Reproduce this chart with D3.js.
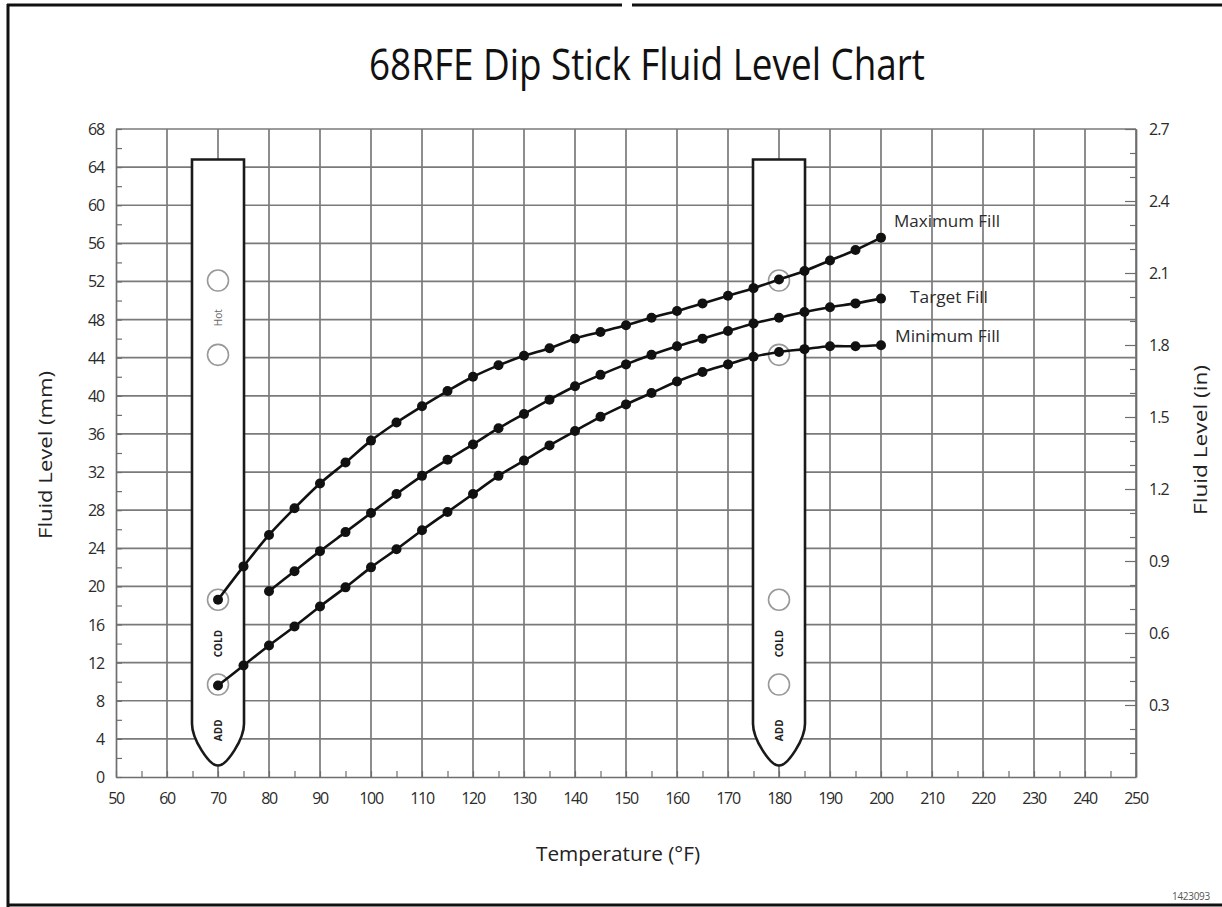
<!DOCTYPE html>
<html>
<head>
<meta charset="utf-8">
<script src="https://cdn.jsdelivr.net/npm/d3@7/dist/d3.min.js"></script>
<style>
  html, body { margin: 0; padding: 0; background: #fff; }
  svg { display: block; }
  text { font-family: "Open Sans", "DejaVu Sans", sans-serif; }
</style>
</head>
<body>
<svg id="chart" width="1222" height="907"></svg>
<script>
// ---------- data ----------
const title = "68RFE Dip Stick Fluid Level Chart";
const xTicks = [50,60,70,80,90,100,110,120,130,140,150,160,170,180,190,200,210,220,230,240,250];
const yTicksMm = [0,4,8,12,16,20,24,28,32,36,40,44,48,52,56,60,64,68];
const yTicksIn = [0.3,0.6,0.9,1.2,1.5,1.8,2.1,2.4,2.7];

const tempsFull = [70,75,80,85,90,95,100,105,110,115,120,125,130,135,140,145,150,155,160,165,170,175,180,185,190,195,200];
const tempsTarget = [80,85,90,95,100,105,110,115,120,125,130,135,140,145,150,155,160,165,170,175,180,185,190,195,200];

const maxFill = [18.6,22.1,25.4,28.2,30.8,33.0,35.3,37.2,38.9,40.5,42.0,43.2,44.2,45.0,46.0,46.7,47.4,48.2,48.9,49.7,50.5,51.3,52.2,53.1,54.2,55.3,56.6];
const targetFill = [19.5,21.6,23.7,25.7,27.7,29.7,31.6,33.3,34.9,36.6,38.1,39.6,41.0,42.2,43.3,44.3,45.2,46.0,46.8,47.6,48.2,48.8,49.3,49.7,50.2];
const minFill = [9.6,11.7,13.8,15.8,17.9,19.9,22.0,23.9,25.9,27.8,29.7,31.6,33.2,34.8,36.3,37.8,39.1,40.3,41.5,42.5,43.3,44.1,44.6,44.9,45.2,45.2,45.3];

const seriesNames = ["Maximum Fill","Target Fill","Minimum Fill"];

// dipsticks
const stickTemps = [70,180];
const stickHalfWidth = 5.1;     // °F
const stickTop = 64.8;          // mm
const stickShoulder = 5.6;      // mm
const stickTip = 1.2;           // mm
const holeLevels = [52.1,44.3,18.6,9.7];
const hotLabelLevel = 48.2, coldLabelLevel = 14.0, addLabelLevel = 4.9;

// ---------- scales ----------
const svg = d3.select("#chart");
const x = d3.scaleLinear().domain([50,250]).range([116,1136]);
const y = d3.scaleLinear().domain([0,68]).range([777,129]);
const yIn = d3.scaleLinear().domain([0,2.7]).range([777,129]);

// ---------- frame border ----------
const border = svg.append("g").attr("stroke","#111").attr("stroke-width",3);
border.append("line").attr("x1",7).attr("x2",622).attr("y1",5).attr("y2",5);
border.append("line").attr("x1",632).attr("x2",1222).attr("y1",5).attr("y2",5);
border.append("line").attr("x1",8).attr("x2",8).attr("y1",4).attr("y2",907);
border.append("line").attr("x1",7).attr("x2",1222).attr("y1",905).attr("y2",905);

// ---------- title ----------
svg.append("text").attr("x",647).attr("y",80).attr("text-anchor","middle")
  .attr("font-size",44).attr("fill","#111")
  .attr("textLength",556).attr("lengthAdjust","spacingAndGlyphs")
  .text(title);

// ---------- grid ----------
const grid = svg.append("g").attr("stroke","#7a7a7a").attr("stroke-width",1.7);
grid.selectAll("line.v").data(xTicks.slice(1)).join("line")
  .attr("x1",d=>x(d)).attr("x2",d=>x(d)).attr("y1",y(68)).attr("y2",y(0));
grid.selectAll("line.h").data(yTicksMm.slice(1)).join("line")
  .attr("x1",x(50)).attr("x2",x(250)).attr("y1",d=>y(d)).attr("y2",d=>y(d));

// ---------- axes ----------
const axisColor = "#6e6e6e";
const tickFont = 16;
const gx = svg.append("g").attr("transform",`translate(0,${y(0)})`)
  .call(d3.axisBottom(x).tickValues(d3.range(50,251,5)).tickSize(-6).tickSizeOuter(0).tickFormat(""));
gx.select(".domain").attr("stroke",axisColor).attr("stroke-width",1.7);
gx.selectAll(".tick line").attr("stroke",axisColor).attr("stroke-width",1.2);
svg.append("g").selectAll("text").data(xTicks).join("text")
  .attr("x",d=>x(d)).attr("y",y(0)+27).attr("text-anchor","middle")
  .attr("font-size",tickFont).attr("fill","#2b2b2b").attr("letter-spacing",-1.3).text(d=>d);

const gy = svg.append("g").attr("transform",`translate(${x(50)},0)`)
  .call(d3.axisLeft(y).tickValues(d3.range(0,69,2)).tickSize(-6).tickSizeOuter(0).tickFormat(""));
gy.select(".domain").attr("stroke",axisColor).attr("stroke-width",1.7);
gy.selectAll(".tick line").attr("stroke",axisColor).attr("stroke-width",1.2);
svg.append("g").selectAll("text").data(yTicksMm).join("text")
  .attr("x",x(50)-12).attr("y",d=>y(d)+6).attr("text-anchor","end")
  .attr("font-size",tickFont).attr("fill","#2b2b2b").attr("letter-spacing",-1.1).text(d=>d);

const gr = svg.append("g").attr("transform",`translate(${x(250)},0)`)
  .call(d3.axisRight(yIn).tickValues(d3.range(1,28).map(v=>v/10)).tickSize(-6).tickSizeOuter(0).tickFormat(""));
gr.select(".domain").attr("stroke",axisColor).attr("stroke-width",1.7);
gr.selectAll(".tick line").attr("stroke",axisColor).attr("stroke-width",1.2)
  .attr("x2",d=> (Math.round(d*10)%3===0) ? -11 : -6);
svg.append("g").selectAll("text").data(yTicksIn).join("text")
  .attr("x",x(250)+13).attr("y",d=>yIn(d)+6).attr("text-anchor","start")
  .attr("font-size",tickFont).attr("fill","#2b2b2b").attr("letter-spacing",-0.9).text(d=>d.toFixed(1));

// axis titles
svg.append("text").attr("transform",`translate(52,455) rotate(-90)`)
  .attr("text-anchor","middle").attr("font-size",19).attr("fill","#222")
  .attr("textLength",168).attr("lengthAdjust","spacingAndGlyphs").text("Fluid Level (mm)");
svg.append("text").attr("transform",`translate(1207,440) rotate(-90)`)
  .attr("text-anchor","middle").attr("font-size",19).attr("fill","#222")
  .attr("textLength",150).attr("lengthAdjust","spacingAndGlyphs").text("Fluid Level (in)");
svg.append("text").attr("x",618).attr("y",861).attr("text-anchor","middle")
  .attr("font-size",20).attr("fill","#222")
  .attr("textLength",164).attr("lengthAdjust","spacingAndGlyphs").text("Temperature (°F)");

// ---------- dipsticks ----------
function stickPath(c){
  const L = x(c-stickHalfWidth), R = x(c+stickHalfWidth), C = x(c);
  const p = d3.path();
  p.moveTo(L, y(stickTop));
  p.lineTo(R, y(stickTop));
  p.lineTo(R, y(stickShoulder));
  p.bezierCurveTo(R, y(stickShoulder-1.6), C+9, y(stickTip), C, y(stickTip));
  p.bezierCurveTo(C-9, y(stickTip), L, y(stickShoulder-1.6), L, y(stickShoulder));
  p.closePath();
  return p.toString();
}
const sticks = svg.append("g").selectAll("g").data(stickTemps).join("g");
sticks.append("path").attr("d",d=>stickPath(d))
  .attr("fill","#fff").attr("stroke","#1a1a1a").attr("stroke-width",2.6);
sticks.selectAll("circle").data(d=>holeLevels.map(h=>({t:d,h}))).join("circle")
  .attr("cx",d=>x(d.t)).attr("cy",d=>y(d.h)).attr("r",10.5)
  .attr("fill","#fff").attr("stroke","#999").attr("stroke-width",1.6);
sticks.append("text").attr("transform",d=>`translate(${x(d)+4},${y(coldLabelLevel)}) rotate(-90)`)
  .attr("text-anchor","middle").attr("font-size",10).attr("font-weight","bold").attr("fill","#222").text("COLD");
sticks.append("text").attr("transform",d=>`translate(${x(d)+4},${y(addLabelLevel)}) rotate(-90)`)
  .attr("text-anchor","middle").attr("font-size",10).attr("font-weight","bold").attr("fill","#222").text("ADD");
svg.append("text").attr("transform",`translate(${x(stickTemps[0])+4},${y(hotLabelLevel)}) rotate(-90)`)
  .attr("text-anchor","middle").attr("font-size",10).attr("fill","#666").text("Hot");

// ---------- series ----------
const series = [
  {name:seriesNames[0], t:tempsFull, v:maxFill},
  {name:seriesNames[1], t:tempsTarget, v:targetFill},
  {name:seriesNames[2], t:tempsFull, v:minFill}
].map(s => ({name:s.name, pts:s.t.map((t,i)=>({t, v:s.v[i]}))}));

const line = d3.line().x(d=>x(d.t)).y(d=>y(d.v)).curve(d3.curveCatmullRom);
const sg = svg.append("g").selectAll("g").data(series).join("g");
sg.append("path").attr("d",d=>line(d.pts)).attr("fill","none")
  .attr("stroke","#111").attr("stroke-width",2.6);
sg.selectAll("circle").data(d=>d.pts).join("circle")
  .attr("cx",d=>x(d.t)).attr("cy",d=>y(d.v)).attr("r",5).attr("fill","#111");

// series labels
const labelPos = [
  {dx:13, dy:-11, len:106},
  {dx:29, dy:4, len:78},
  {dx:14, dy:-3, len:105}
];
svg.append("g").selectAll("text").data(series).join("text")
  .attr("x",(d,i)=>x(d.pts[d.pts.length-1].t)+labelPos[i].dx)
  .attr("y",(d,i)=>y(d.pts[d.pts.length-1].v)+labelPos[i].dy)
  .attr("font-size",17).attr("fill","#2b2b2b")
  .attr("textLength",(d,i)=>labelPos[i].len).attr("lengthAdjust","spacingAndGlyphs")
  .text(d=>d.name);

// figure code
svg.append("text").attr("x",1172).attr("y",900).attr("font-size",10).attr("fill","#555")
  .attr("letter-spacing",-0.3).text("1423093");
</script>
</body>
</html>
